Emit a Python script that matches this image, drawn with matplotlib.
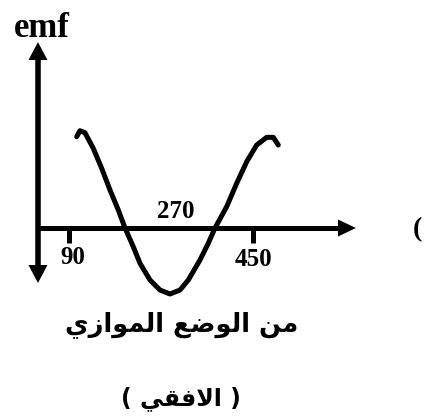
import matplotlib
matplotlib.use("Agg")
from matplotlib import pyplot as plt

# curve (angle in degrees, emf in arbitrary units)
angle = [105.1, 111.5, 121.3, 137.5, 154.0, 170.2, 186.5, 199.6, 215.8, 228.9,
         248.5, 268.0, 287.6, 307.2, 323.4, 346.3, 362.5, 375.6, 398.5, 418.1,
         437.7, 457.2, 476.8, 489.7, 499.5]
emf = [1.405, 1.497, 1.466, 1.226, 0.918, 0.585, 0.277, 0.0, -0.288, -0.543,
       -0.800, -0.954, -1.015, -0.954, -0.800, -0.492, -0.235, 0.0, 0.328, 0.688,
       1.020, 1.277, 1.395, 1.395, 1.277]

tick_pos = [90, 450]
tick_labels = ["90", "450"]
mid_label = "270"

# Arabic, pre-shaped presentation forms in visual order
line1 = ("\uFEF1\uFEAF\uFE8D\uFEEE\uFEE4\uFEDF\uFE8D" + " "
         + "\uFECA\uFEBF\uFEEE\uFEDF\uFE8D" + " " + "\uFEE6\uFEE3")
line2 = "( " + "\uFEF2\uFED8\uFED3\uFEFB\uFE8D" + " )"

fig = plt.figure(figsize=(4.24, 4.16), dpi=100)
ax = fig.add_axes([0, 0, 1, 1])
ax.set_xlim(-45.0, 784.6)
ax.set_ylim(-2.892, 3.508)
ax.axis("off")

serif = dict(family="Liberation Serif", weight="bold")

# axes with arrows
x0 = 29.3
ax.plot([x0, x0], [-0.60, 2.62], color="black", lw=4.0, solid_capstyle="butt")
ax.plot([x0, 618], [0, 0], color="black", lw=3.6, solid_capstyle="butt")
ax.fill([x0 - 18.6, x0 + 18.6, x0], [2.585, 2.585, 2.86], color="black", lw=0)
ax.fill([x0 - 18.6, x0 + 18.6, x0], [-0.569, -0.569, -0.846], color="black", lw=0)
ax.fill([616.3, 616.3, 651.5], [0.131, -0.131, 0], color="black", lw=0)

for t in tick_pos:
    ax.plot([t, t], [0, -0.23], color="black", lw=3.6, solid_capstyle="butt")

ax.plot(angle, emf, color="black", lw=3.6, solid_capstyle="round",
        solid_joinstyle="round")

ax.text(97, -0.45, tick_labels[0], ha="center", va="center", fontsize=18, **serif)
ax.text(450, -0.48, tick_labels[1], ha="center", va="center", fontsize=18, **serif)
ax.text(299, 0.25, mid_label, ha="center", va="center", fontsize=18, **serif)
ax.text(37.2, 2.94, "emf", ha="center", va="baseline", fontsize=25, **serif)

ax.text(311, -1.48, line1, ha="center", va="center", fontsize=18.5,
        family="DejaVu Sans", weight="bold")
ax.text(309, -2.63, line2, ha="center", va="center", fontsize=17,
        family="DejaVu Sans", weight="bold")
# stray bracket at the right edge, kept inside the figure
ax.text(780, -0.03, "(", ha="right", va="center", fontsize=20, **serif)

fig.savefig("out.png", dpi=100)
